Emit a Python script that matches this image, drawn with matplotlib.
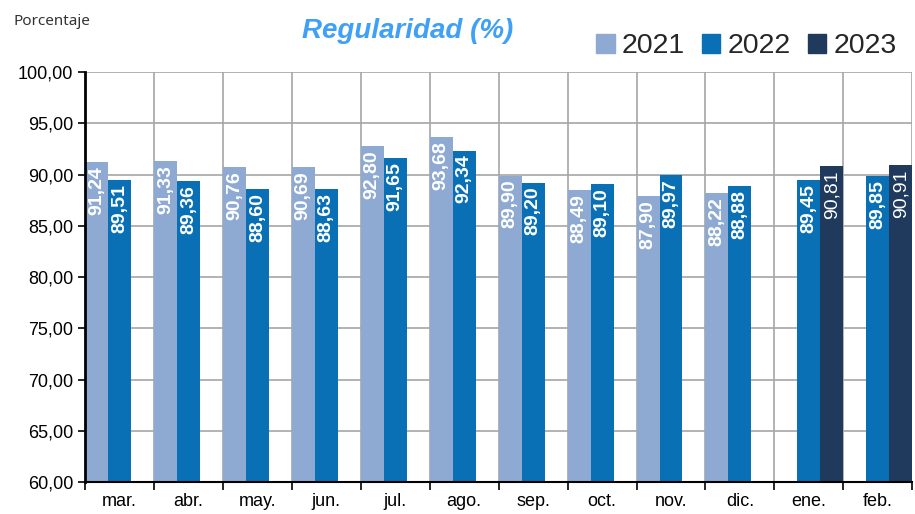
import numpy as np
import matplotlib.pyplot as plt
from matplotlib.patches import Patch

months = ["mar.", "abr.", "may.", "jun.", "jul.", "ago.", "sep.", "oct.",
          "nov.", "dic.", "ene.", "feb."]
v2021 = [91.24, 91.33, 90.76, 90.69, 92.80, 93.68, 89.90, 88.49, 87.90, 88.22, None, None]
v2022 = [89.51, 89.36, 88.60, 88.63, 91.65, 92.34, 89.20, 89.10, 89.97, 88.88, 89.45, 89.85]
v2023 = [None, None, None, None, None, None, None, None, None, None, 90.81, 90.91]
years = ["2021", "2022", "2023"]
colors = ["#8eaad3", "#0a70b5", "#1f3a5c"]

plt.rcParams['font.family'] = ['Liberation Sans', 'DejaVu Sans']

fig = plt.figure(figsize=(9.15, 5.14), dpi=100)
ax = fig.add_axes([0.093, 0.062, 0.904, 0.798])

x = np.arange(len(months))
w = 1 / 3
for k, vals in enumerate([v2021, v2022, v2023]):
    for i, v in enumerate(vals):
        if v is None:
            continue
        xc = x[i] - 0.5 + w * (k + 0.5)
        ax.bar(xc, v - 60, width=w, bottom=60, color=colors[k], zorder=2)
        label = ("%.2f" % v).replace(".", ",")
        ax.text(xc, v - 0.4, label, rotation=90, ha='center', va='top',
                color='white', fontsize=14,
                fontweight='normal' if k == 2 else 'bold', zorder=3)

ax.set_xlim(-0.5, len(months) - 0.5)
ax.set_ylim(60, 100)
ax.set_yticks(np.arange(60, 101, 5))
ax.set_yticklabels([("%.2f" % t).replace(".", ",") for t in np.arange(60, 101, 5)],
                   fontsize=13)
ax.set_xticks(x)
ax.set_xticklabels(months, fontsize=13)
ax.tick_params(axis='x', length=0, pad=8)
ax.set_xticks(np.arange(-0.5, len(months), 1), minor=True)
ax.tick_params(axis='x', which='minor', length=6, width=1.2, color='black')
ax.tick_params(axis='y', length=5, width=1.2, color='black')
ax.grid(True, axis='y', color='#a6a6a6', linewidth=1.2, zorder=0)
ax.grid(True, axis='x', which='minor', color='#a6a6a6', linewidth=1.2, zorder=0)
ax.set_axisbelow(True)
for s in ['top', 'right']:
    ax.spines[s].set_visible(False)
ax.spines['left'].set_linewidth(2)
ax.spines['bottom'].set_linewidth(1.5)

handles = [Patch(color=c) for c in colors]
leg = fig.legend(handles, years, loc='upper right', bbox_to_anchor=(1.008, 0.985),
                 ncol=3, frameon=False, fontsize=20.5, handlelength=0.65,
                 handleheight=0.65, handletextpad=0.25, columnspacing=0.6)
for t in leg.get_texts():
    t.set_color('#262626')

fig.text(0.015, 0.958, "Porcentaje", fontsize=11, color='#333333',
         family=['Noto Sans', 'DejaVu Sans'], va='center')
fig.text(0.446, 0.94, "Regularidad (%)", fontsize=20, color='#3fa0f5',
         fontweight='bold', fontstyle='italic', ha='center', va='center')

fig.savefig("out.png", dpi=100)
